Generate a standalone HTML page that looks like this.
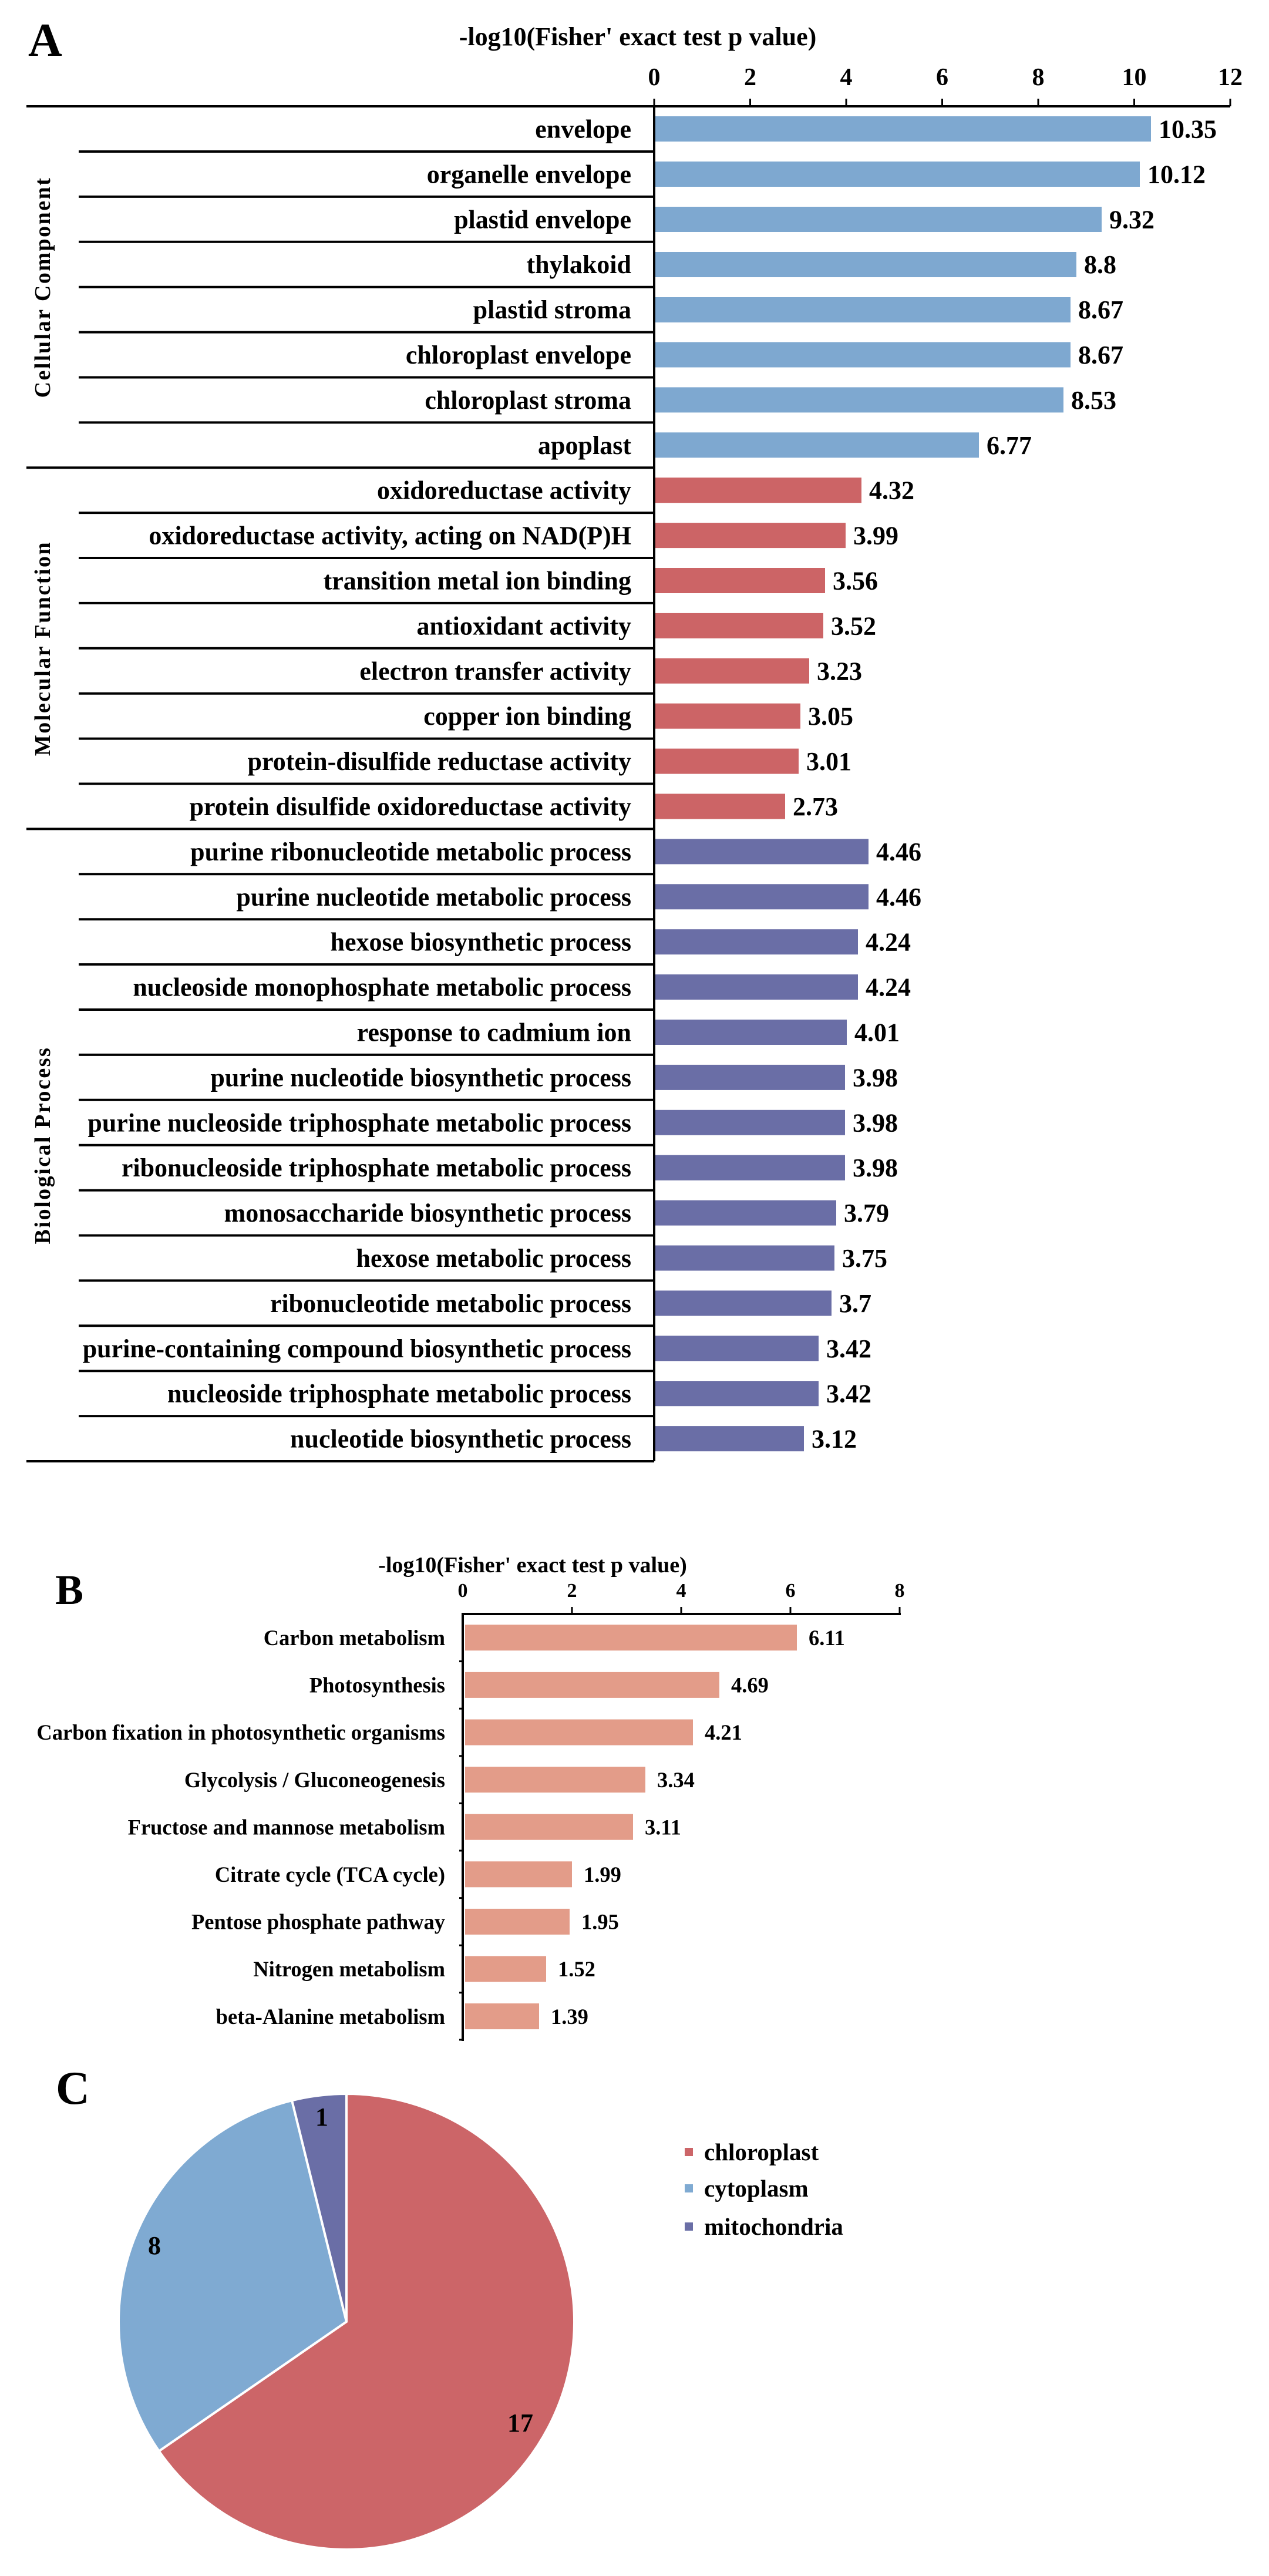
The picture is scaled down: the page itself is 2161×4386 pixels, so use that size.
<!DOCTYPE html>
<html><head><meta charset="utf-8"><style>
html,body{margin:0;padding:0;background:#fff}
svg{display:block}
text{font-family:"Liberation Serif",serif;font-weight:bold;fill:#000}
.l{font-size:44px;text-anchor:end}
.v{font-size:44px}
.bl{font-size:36.5px;text-anchor:end}
.bv{font-size:36.5px}
</style></head><body>
<svg width="2161" height="4386" viewBox="0 0 2161 4386" xmlns="http://www.w3.org/2000/svg">
<rect width="2161" height="4386" fill="#fff"/>
<!-- Panel A -->
<text x="48" y="95" font-size="80">A</text>
<text x="1086" y="77" font-size="44" text-anchor="middle">-log10(Fisher' exact test p value)</text>
<g font-size="42" text-anchor="middle">
<text x="1114" y="145">0</text><text x="1277.5" y="145">2</text><text x="1441" y="145">4</text><text x="1604.5" y="145">6</text><text x="1768" y="145">8</text><text x="1931.5" y="145">10</text><text x="2095" y="145">12</text>
</g>
<g stroke="#000" stroke-width="3">
<line x1="1114" y1="168" x2="1114" y2="181"/><line x1="1277.5" y1="168" x2="1277.5" y2="181"/><line x1="1441" y1="168" x2="1441" y2="181"/><line x1="1604.5" y1="168" x2="1604.5" y2="181"/><line x1="1768" y1="168" x2="1768" y2="181"/><line x1="1931.5" y1="168" x2="1931.5" y2="181"/><line x1="2095" y1="168" x2="2095" y2="181"/>
</g>
<g stroke="#000" stroke-width="4">
<line x1="45" y1="181" x2="2095" y2="181"/>
<line x1="1114" y1="181" x2="1114" y2="2488"/>
<line x1="45" y1="796.2" x2="1114" y2="796.2"/>
<line x1="45" y1="1411.4" x2="1114" y2="1411.4"/>
<line x1="45" y1="2488" x2="1114" y2="2488"/>
<line x1="134" y1="258" x2="1114" y2="258"/>
<line x1="134" y1="334.9" x2="1114" y2="334.9"/>
<line x1="134" y1="411.8" x2="1114" y2="411.8"/>
<line x1="134" y1="488.7" x2="1114" y2="488.7"/>
<line x1="134" y1="565.6" x2="1114" y2="565.6"/>
<line x1="134" y1="642.5" x2="1114" y2="642.5"/>
<line x1="134" y1="719.4" x2="1114" y2="719.4"/>
<line x1="134" y1="873.1" x2="1114" y2="873.1"/>
<line x1="134" y1="950" x2="1114" y2="950"/>
<line x1="134" y1="1026.9" x2="1114" y2="1026.9"/>
<line x1="134" y1="1103.8" x2="1114" y2="1103.8"/>
<line x1="134" y1="1180.7" x2="1114" y2="1180.7"/>
<line x1="134" y1="1257.6" x2="1114" y2="1257.6"/>
<line x1="134" y1="1334.5" x2="1114" y2="1334.5"/>
<line x1="134" y1="1488.3" x2="1114" y2="1488.3"/>
<line x1="134" y1="1565.2" x2="1114" y2="1565.2"/>
<line x1="134" y1="1642.1" x2="1114" y2="1642.1"/>
<line x1="134" y1="1719" x2="1114" y2="1719"/>
<line x1="134" y1="1795.9" x2="1114" y2="1795.9"/>
<line x1="134" y1="1872.8" x2="1114" y2="1872.8"/>
<line x1="134" y1="1949.7" x2="1114" y2="1949.7"/>
<line x1="134" y1="2026.6" x2="1114" y2="2026.6"/>
<line x1="134" y1="2103.5" x2="1114" y2="2103.5"/>
<line x1="134" y1="2180.4" x2="1114" y2="2180.4"/>
<line x1="134" y1="2257.3" x2="1114" y2="2257.3"/>
<line x1="134" y1="2334.2" x2="1114" y2="2334.2"/>
<line x1="134" y1="2411.1" x2="1114" y2="2411.1"/>
</g>
<g font-size="38" text-anchor="middle" letter-spacing="2.5">
<text transform="translate(85,489) rotate(-90)">Cellular Component</text>
<text transform="translate(85,1104) rotate(-90)">Molecular Function</text>
<text transform="translate(85,1950) rotate(-90)">Biological Process</text>
</g>
<!-- CC -->
<g fill="#7EA8D0">
<rect x="1116" y="198" width="844" height="43"/>
<rect x="1116" y="275" width="825" height="43"/>
<rect x="1116" y="352" width="760" height="43"/>
<rect x="1116" y="429" width="717" height="43"/>
<rect x="1116" y="506" width="707" height="43"/>
<rect x="1116" y="582.5" width="707" height="43"/>
<rect x="1116" y="659.4" width="695" height="43"/>
<rect x="1116" y="736.3" width="551" height="43"/>
</g>
<g fill="#CC6466">
<rect x="1116" y="813.2" width="351" height="43"/>
<rect x="1116" y="890.1" width="324" height="43"/>
<rect x="1116" y="967" width="289" height="43"/>
<rect x="1116" y="1043.9" width="286" height="43"/>
<rect x="1116" y="1120.8" width="262" height="43"/>
<rect x="1116" y="1197.7" width="247" height="43"/>
<rect x="1116" y="1274.6" width="244" height="43"/>
<rect x="1116" y="1351.5" width="221" height="43"/>
</g>
<g fill="#6A6EA6">
<rect x="1116" y="1428.4" width="363" height="43"/>
<rect x="1116" y="1505.3" width="363" height="43"/>
<rect x="1116" y="1582.2" width="345" height="43"/>
<rect x="1116" y="1659.1" width="345" height="43"/>
<rect x="1116" y="1736" width="326" height="43"/>
<rect x="1116" y="1812.9" width="323" height="43"/>
<rect x="1116" y="1889.8" width="323" height="43"/>
<rect x="1116" y="1966.7" width="323" height="43"/>
<rect x="1116" y="2043.6" width="308" height="43"/>
<rect x="1116" y="2120.5" width="305" height="43"/>
<rect x="1116" y="2197.4" width="300" height="43"/>
<rect x="1116" y="2274.3" width="278" height="43"/>
<rect x="1116" y="2351.2" width="278" height="43"/>
<rect x="1116" y="2428.1" width="253" height="43"/>
</g>
<g>
<text class="l" x="1075" y="234.5">envelope</text>
<text class="l" x="1075" y="311.4">organelle envelope</text>
<text class="l" x="1075" y="388.3">plastid envelope</text>
<text class="l" x="1075" y="465.2">thylakoid</text>
<text class="l" x="1075" y="542.1">plastid stroma</text>
<text class="l" x="1075" y="619">chloroplast envelope</text>
<text class="l" x="1075" y="695.9">chloroplast stroma</text>
<text class="l" x="1075" y="772.8">apoplast</text>
<text class="l" x="1075" y="849.7">oxidoreductase activity</text>
<text class="l" x="1075" y="926.6">oxidoreductase activity, acting on NAD(P)H</text>
<text class="l" x="1075" y="1003.5">transition metal ion binding</text>
<text class="l" x="1075" y="1080.4">antioxidant activity</text>
<text class="l" x="1075" y="1157.3">electron transfer activity</text>
<text class="l" x="1075" y="1234.2">copper ion binding</text>
<text class="l" x="1075" y="1311.1">protein-disulfide reductase activity</text>
<text class="l" x="1075" y="1388">protein disulfide oxidoreductase activity</text>
<text class="l" x="1075" y="1464.9">purine ribonucleotide metabolic process</text>
<text class="l" x="1075" y="1541.8">purine nucleotide metabolic process</text>
<text class="l" x="1075" y="1618.7">hexose biosynthetic process</text>
<text class="l" x="1075" y="1695.6">nucleoside monophosphate metabolic process</text>
<text class="l" x="1075" y="1772.5">response to cadmium ion</text>
<text class="l" x="1075" y="1849.4">purine nucleotide biosynthetic process</text>
<text class="l" x="1075" y="1926.3">purine nucleoside triphosphate metabolic process</text>
<text class="l" x="1075" y="2003.2">ribonucleoside triphosphate metabolic process</text>
<text class="l" x="1075" y="2080.1">monosaccharide biosynthetic process</text>
<text class="l" x="1075" y="2157">hexose metabolic process</text>
<text class="l" x="1075" y="2233.9">ribonucleotide metabolic process</text>
<text class="l" x="1075" y="2310.8">purine-containing compound biosynthetic process</text>
<text class="l" x="1075" y="2387.7">nucleoside triphosphate metabolic process</text>
<text class="l" x="1075" y="2464.6">nucleotide biosynthetic process</text>
</g>
<g>
<text class="v" x="1973" y="234.5">10.35</text>
<text class="v" x="1954" y="311.4">10.12</text>
<text class="v" x="1889" y="388.3">9.32</text>
<text class="v" x="1846" y="465.2">8.8</text>
<text class="v" x="1836" y="542.1">8.67</text>
<text class="v" x="1836" y="619">8.67</text>
<text class="v" x="1824" y="695.9">8.53</text>
<text class="v" x="1680" y="772.8">6.77</text>
<text class="v" x="1480" y="849.7">4.32</text>
<text class="v" x="1453" y="926.6">3.99</text>
<text class="v" x="1418" y="1003.5">3.56</text>
<text class="v" x="1415" y="1080.4">3.52</text>
<text class="v" x="1391" y="1157.3">3.23</text>
<text class="v" x="1376" y="1234.2">3.05</text>
<text class="v" x="1373" y="1311.1">3.01</text>
<text class="v" x="1350" y="1388">2.73</text>
<text class="v" x="1492" y="1464.9">4.46</text>
<text class="v" x="1492" y="1541.8">4.46</text>
<text class="v" x="1474" y="1618.7">4.24</text>
<text class="v" x="1474" y="1695.6">4.24</text>
<text class="v" x="1455" y="1772.5">4.01</text>
<text class="v" x="1452" y="1849.4">3.98</text>
<text class="v" x="1452" y="1926.3">3.98</text>
<text class="v" x="1452" y="2003.2">3.98</text>
<text class="v" x="1437" y="2080.1">3.79</text>
<text class="v" x="1434" y="2157">3.75</text>
<text class="v" x="1429" y="2233.9">3.7</text>
<text class="v" x="1407" y="2310.8">3.42</text>
<text class="v" x="1407" y="2387.7">3.42</text>
<text class="v" x="1382" y="2464.6">3.12</text>
</g>

<!-- Panel B -->
<text x="94" y="2731" font-size="72">B</text>
<text x="907" y="2677" font-size="38" text-anchor="middle">-log10(Fisher' exact test p value)</text>
<g font-size="34" text-anchor="middle">
<text x="788" y="2719">0</text><text x="974" y="2719">2</text><text x="1160" y="2719">4</text><text x="1346" y="2719">6</text><text x="1532" y="2719">8</text>
</g>
<g stroke="#000" stroke-width="4">
<line x1="786" y1="2748" x2="1534" y2="2748"/>
<line x1="788" y1="2746" x2="788" y2="3475"/>
</g>
<g stroke="#000" stroke-width="3">
<line x1="974" y1="2736" x2="974" y2="2748"/><line x1="1160" y1="2736" x2="1160" y2="2748"/><line x1="1346" y1="2736" x2="1346" y2="2748"/><line x1="1532" y1="2736" x2="1532" y2="2748"/>
<line x1="782" y1="2828.6" x2="788" y2="2828.6"/><line x1="782" y1="2909.2" x2="788" y2="2909.2"/><line x1="782" y1="2989.8" x2="788" y2="2989.8"/><line x1="782" y1="3070.4" x2="788" y2="3070.4"/><line x1="782" y1="3151" x2="788" y2="3151"/><line x1="782" y1="3231.6" x2="788" y2="3231.6"/><line x1="782" y1="3312.2" x2="788" y2="3312.2"/><line x1="782" y1="3392.8" x2="788" y2="3392.8"/><line x1="782" y1="3473" x2="788" y2="3473"/>
</g>
<g fill="#E39C89">
<rect x="792" y="2766.3" width="565" height="44"/>
<rect x="792" y="2846.9" width="433" height="44"/>
<rect x="792" y="2927.5" width="388" height="44"/>
<rect x="792" y="3008.1" width="307" height="44"/>
<rect x="792" y="3088.7" width="286" height="44"/>
<rect x="792" y="3169.3" width="182" height="44"/>
<rect x="792" y="3249.9" width="178" height="44"/>
<rect x="792" y="3330.5" width="138" height="44"/>
<rect x="792" y="3411.1" width="126" height="44"/>
</g>
<g>
<text class="bl" x="758" y="2801">Carbon metabolism</text>
<text class="bl" x="758" y="2881.6">Photosynthesis</text>
<text class="bl" x="758" y="2962.2">Carbon fixation in photosynthetic organisms</text>
<text class="bl" x="758" y="3042.8">Glycolysis / Gluconeogenesis</text>
<text class="bl" x="758" y="3123.4">Fructose and mannose metabolism</text>
<text class="bl" x="758" y="3204">Citrate cycle (TCA cycle)</text>
<text class="bl" x="758" y="3284.6">Pentose phosphate pathway</text>
<text class="bl" x="758" y="3365.2">Nitrogen metabolism</text>
<text class="bl" x="758" y="3445.8">beta-Alanine metabolism</text>
<text class="bv" x="1377" y="2801">6.11</text>
<text class="bv" x="1245" y="2881.6">4.69</text>
<text class="bv" x="1200" y="2962.2">4.21</text>
<text class="bv" x="1119" y="3042.8">3.34</text>
<text class="bv" x="1098" y="3123.4">3.11</text>
<text class="bv" x="994" y="3204">1.99</text>
<text class="bv" x="990" y="3284.6">1.95</text>
<text class="bv" x="950" y="3365.2">1.52</text>
<text class="bv" x="938" y="3445.8">1.39</text>
</g>

<!-- Panel C -->
<text x="95" y="3582" font-size="80">C</text>
<g stroke="#fff" stroke-width="4" stroke-linejoin="round">
<path d="M590,3953 L590,3565 A388,388 0 1 1 270.7,4173.4 Z" fill="#CC6568"/>
<path d="M590,3953 L270.7,4173.4 A388,388 0 0 1 497.1,3576.3 Z" fill="#7FAAD2"/>
<path d="M590,3953 L497.1,3576.3 A388,388 0 0 1 590,3565 Z" fill="#6A6EA6"/>
</g>
<g font-size="44" text-anchor="middle">
<text x="548" y="3619">1</text>
<text x="263" y="3838">8</text>
<text x="886" y="4140">17</text>
</g>
<rect x="1166" y="3657" width="14" height="14" fill="#CC6568"/>
<rect x="1166" y="3719" width="14" height="14" fill="#7FAAD2"/>
<rect x="1166" y="3784" width="14" height="14" fill="#6A6EA6"/>
<g font-size="41">
<text x="1199" y="3678">chloroplast</text>
<text x="1199" y="3740">cytoplasm</text>
<text x="1199" y="3805">mitochondria</text>
</g>
</svg>
</body></html>
